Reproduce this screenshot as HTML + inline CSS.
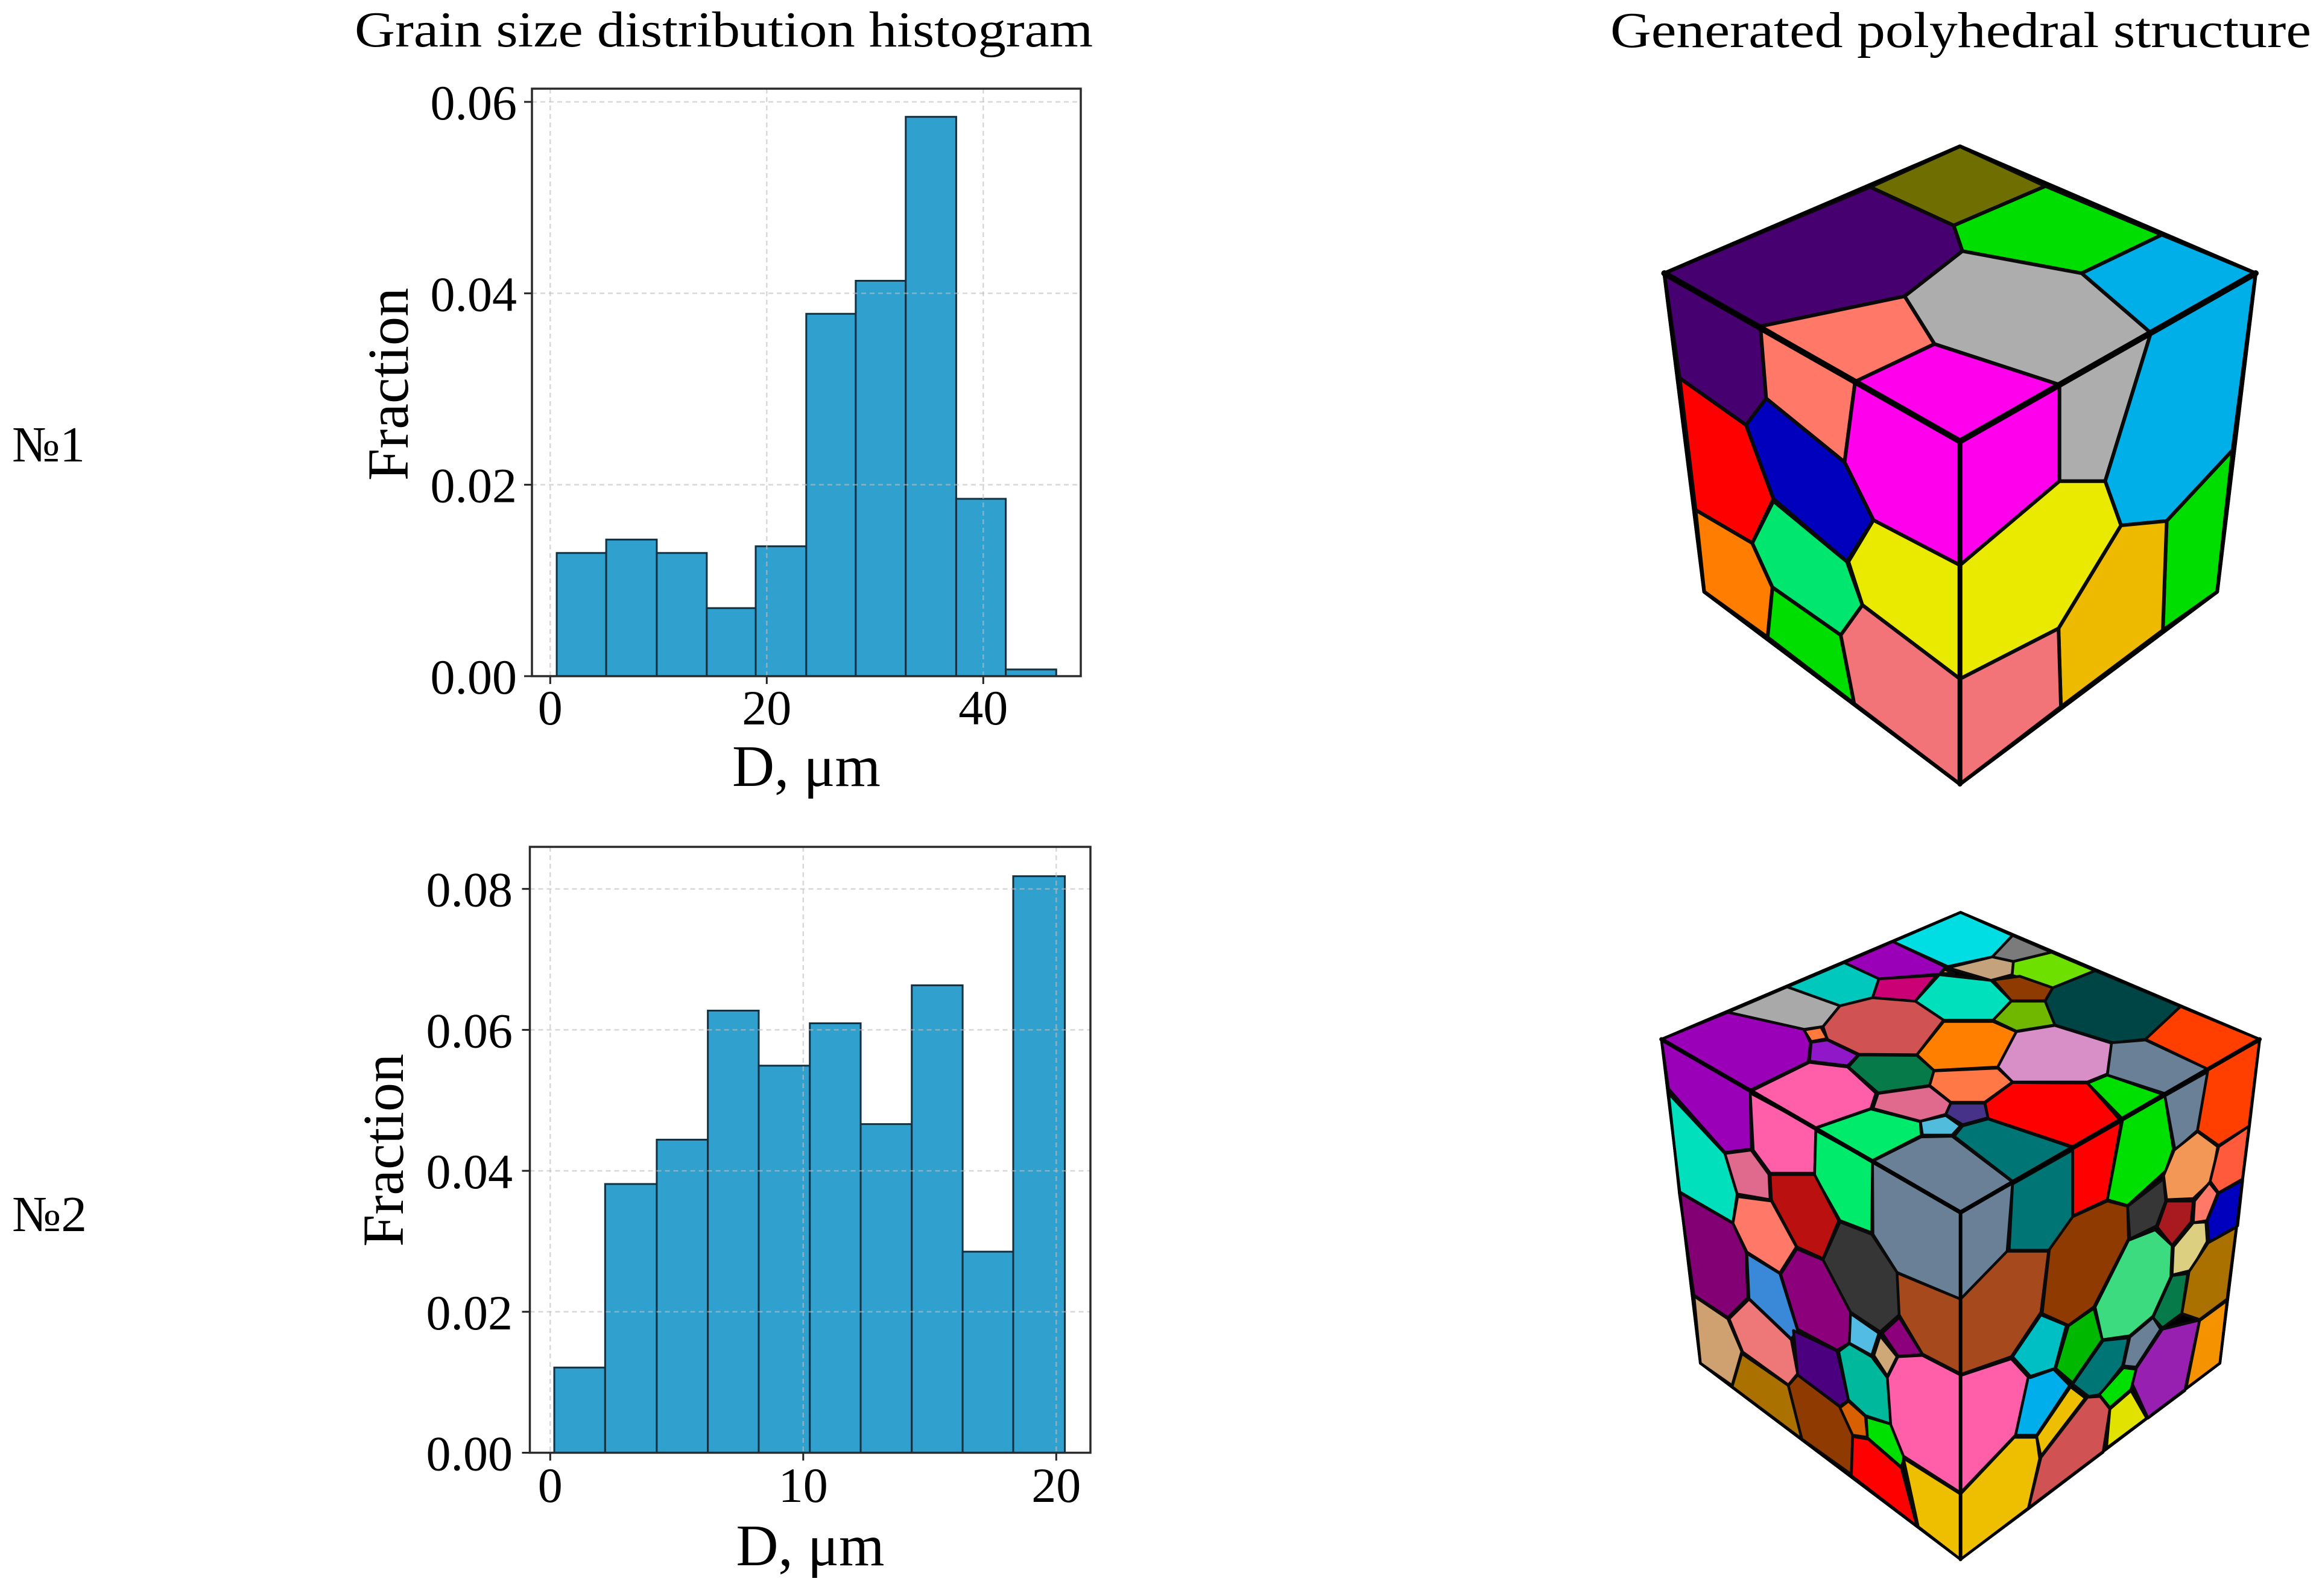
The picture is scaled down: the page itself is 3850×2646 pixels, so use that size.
<!DOCTYPE html>
<html lang="en">
<head>
<meta charset="utf-8">
<title>Grain size distribution and polyhedral structures</title>
<style>
html,body{margin:0;padding:0;background:#fff;}
svg{display:block;}
text{font-family:"Liberation Serif","DejaVu Serif",serif;fill:#000;}
.cube polygon{stroke:#0a0a0a;stroke-width:4.5;stroke-linejoin:round;vector-effect:non-scaling-stroke;}
.cube.cube-one polygon{stroke-width:6;}
.cube polyline{fill:none;stroke:#000;stroke-linejoin:round;stroke-linecap:round;vector-effect:non-scaling-stroke;}
</style>
</head>
<body>
<svg id="figure" xmlns="http://www.w3.org/2000/svg" width="3850" height="2646" viewBox="0 0 3850 2646">
<rect width="3850" height="2646" fill="#ffffff"/>
<text x="588" y="77" font-size="84" textLength="1224" lengthAdjust="spacingAndGlyphs">Grain size distribution histogram</text>
<text x="2670" y="78" font-size="84" textLength="1162" lengthAdjust="spacingAndGlyphs">Generated polyhedral structure</text>
<text x="20" y="765" font-size="84" textLength="121" lengthAdjust="spacingAndGlyphs">№1</text>
<text x="20" y="2041" font-size="84" textLength="124" lengthAdjust="spacingAndGlyphs">№2</text>

<g id="chart-1"></g>
<g id="chart-2"></g>

<g class="cube cube-one" transform="translate(2600 200) scale(0.7972 0.7334)">
<polygon fill="#000" points="815,58 1430,345 1350,1065 815,1500 283,1065 200,345"/>
<polygon fill="#6f6e00" points="815,58 993,148 802,237 628,150"/>
<polygon fill="#00de00" points="993,148 1235,258 1068,345 820,295 802,237"/>
<polygon fill="#00aee8" points="1235,258 1430,345 1212,480 1068,345"/>
<polygon fill="#47006f" points="628,150 802,237 820,295 700,397 400,465 200,345"/>
<polygon fill="#adadad" points="820,295 1068,345 1212,480 1022,597 762,505 700,397"/>
<polygon fill="#ff7868" points="700,397 762,505 597,590 400,465"/>
<polygon fill="#ff00ed" points="762,505 1022,597 815,725 597,590"/>
<polygon fill="#47006f" points="200,345 400,465 412,628 370,688 232,582"/>
<polygon fill="#ff7868" points="400,465 597,590 575,772 412,628"/>
<polygon fill="#ff00ed" points="597,590 815,725 815,1005 635,903 575,772"/>
<polygon fill="#ff0000" points="232,582 370,688 427,855 383,955 265,880"/>
<polygon fill="#0000bd" points="412,628 575,772 635,903 580,997 427,855 370,688"/>
<polygon fill="#ff7d00" points="265,880 383,955 425,1055 415,1168 283,1065"/>
<polygon fill="#00e66e" points="427,860 580,997 612,1095 567,1163 425,1055 383,955"/>
<polygon fill="#eaea00" points="635,903 815,1005 815,1262 612,1095 583,997"/>
<polygon fill="#00de00" points="425,1055 567,1163 595,1318 415,1168"/>
<polygon fill="#f27378" points="612,1095 815,1262 815,1500 595,1318 567,1163"/>
<polygon fill="#ff00ed" points="815,725 1022,597 1022,815 815,1005"/>
<polygon fill="#adadad" points="1022,597 1212,480 1117,815 1022,815"/>
<polygon fill="#00aee8" points="1212,480 1430,345 1382,745 1245,905 1150,915 1117,815"/>
<polygon fill="#eaea00" points="815,1005 1022,815 1117,815 1150,915 1020,1148 815,1262"/>
<polygon fill="#00de00" points="1382,745 1350,1065 1237,1152 1245,905"/>
<polygon fill="#eeba00" points="1150,915 1245,905 1237,1152 1025,1325 1020,1148"/>
<polygon fill="#f27378" points="815,1262 1020,1148 1025,1325 815,1500"/>
<polyline stroke-width="10" points="200,345 815,725 1430,345"/>
<polyline stroke-width="8" points="815,725 815,1500"/>
<polyline stroke-width="6" points="200,345 815,58 1430,345 1350,1065 815,1500 283,1065 200,345"/>
</g>

<g class="cube">
<g transform="translate(2700 1480) scale(0.7015 0.3827)">
<polygon fill="#000" points="785,85 1492,635 1398,2038 785,2888 170,2038 78,635"/>
<polygon fill="#00dde3" points="785,85 908,185 860,278 755,320 625,212"/>
<polygon fill="#7b7b7b" points="908,185 1000,258 910,298 860,278"/>
<polygon fill="#c4a27c" points="860,278 910,298 907,355 857,380 755,325"/>
<polygon fill="#ff9a00" points="748,332 770,350 738,350"/>
<polygon fill="#6ee000" points="1000,258 1103,338 1003,412 907,358 910,298"/>
<polygon fill="#9a00b8" points="625,212 750,322 735,353 592,373 510,303"/>
<polygon fill="#00c8bd" points="510,303 592,373 577,455 500,490 375,408"/>
<polygon fill="#cc0075" points="592,373 728,358 678,470 577,455"/>
<polygon fill="#00e0bd" points="735,355 857,380 905,468 862,552 745,552 678,470"/>
<polygon fill="#8f3a00" points="862,378 925,362 1003,412 985,468 905,468"/>
<polygon fill="#70b800" points="905,470 985,470 1008,573 917,600 862,552"/>
<polygon fill="#004545" points="1103,338 1305,493 1222,635 1145,650 1008,573 985,470 1003,412"/>
<polygon fill="#ff3f00" points="1305,493 1492,635 1370,765 1222,635"/>
<polygon fill="#a9a9a9" points="375,408 500,490 460,580 415,592 235,518"/>
<polygon fill="#d05252" points="577,455 678,470 745,552 682,702 545,700 470,635 460,580 500,490"/>
<polygon fill="#ff7f00" points="745,558 862,558 917,602 873,755 722,770 682,702"/>
<polygon fill="#d88fc8" points="917,602 1008,575 1142,652 1132,785 1085,820 908,820 873,755"/>
<polygon fill="#6a8096" points="1142,650 1222,638 1370,765 1268,870 1132,790"/>
<polygon fill="#9a00b8" points="235,518 415,592 430,650 425,733 288,855 78,635"/>
<polygon fill="#ff7a3c" points="415,595 455,582 470,632 432,645"/>
<polygon fill="#9018c8" points="432,648 470,638 543,703 518,750 428,730"/>
<polygon fill="#077a4a" points="545,703 682,705 722,770 712,835 590,867 520,755"/>
<polygon fill="#ff7845" points="722,772 873,760 908,820 842,908 762,908 712,835"/>
<polygon fill="#ff5fa8" points="428,735 518,755 585,868 573,935 443,1018 292,858"/>
<polygon fill="#e06a8e" points="590,870 712,838 762,910 750,960 690,990 578,935"/>
<polygon fill="#ff0000" points="908,822 1085,825 1162,985 1050,1100 850,978 843,910"/>
<polygon fill="#00e000" points="1085,825 1132,790 1265,875 1168,980"/>
<polygon fill="#463288" points="762,912 842,912 850,975 790,1005 750,960"/>
<polygon fill="#52bcdc" points="750,965 785,1010 765,1050 695,1050 690,990"/>
<polygon fill="#007575" points="790,1010 850,980 1048,1103 908,1250 770,1055"/>
<polygon fill="#00eb6c" points="573,937 690,992 692,1052 577,1160 443,1020"/>
<polygon fill="#6a8096" points="692,1058 765,1055 908,1253 785,1385 577,1163"/>
<polygon fill="#9a00b8" points="78,635 288,855 290,1110 228,1125 95,850"/>
<polygon fill="#ff5fa8" points="288,868 443,1020 440,1215 335,1215 295,1115"/>
<polygon fill="#00eb6c" points="443,1030 577,1165 575,1473 500,1420 440,1225"/>
<polygon fill="#00e0bd" points="95,870 228,1130 257,1305 247,1430 120,1295"/>
<polygon fill="#e06a8e" points="228,1130 290,1115 332,1220 335,1330 257,1305"/>
<polygon fill="#ff0000" points="1050,1110 1165,990 1132,1330 1050,1400"/>
<polygon fill="#00e000" points="1168,985 1268,880 1288,1110 1270,1205 1180,1355 1132,1330"/>
<polygon fill="#6a8096" points="1268,880 1370,775 1345,1030 1292,1115"/>
<polygon fill="#ff3f00" points="1370,765 1492,640 1468,1010 1395,1095 1345,1030"/>
<polygon fill="#f29755" points="1345,1035 1393,1100 1378,1250 1335,1325 1272,1330 1265,1225 1290,1115"/>
<polygon fill="#ff5a3c" points="1468,1010 1452,1240 1395,1300 1375,1250 1395,1100"/>
</g>
<g transform="translate(2700 1950) scale(0.7015 0.4337)">
<polygon fill="#ff7868" points="258,78 338,95 397,270 358,370 280,290 247,180"/>
<polygon fill="#bb1010" points="335,-6 440,-6 497,170 460,315 398,270 338,90"/>
<polygon fill="#6a8096" points="577,-57 785,140 785,470 635,368 578,222"/>
<polygon fill="#6a8096" points="785,140 908,25 895,290 785,470"/>
<polygon fill="#007575" points="908,30 1050,-100 1050,155 995,283 900,283"/>
<polygon fill="#0000bd" points="1395,65 1452,15 1440,190 1372,252 1368,170"/>
<polygon fill="#363636" points="500,175 575,222 635,368 640,530 595,595 525,520 460,320"/>
<polygon fill="#820074" points="120,62 247,180 278,290 282,465 235,540 155,455"/>
<polygon fill="#3a88d8" points="280,295 358,372 400,590 385,622 285,468"/>
<polygon fill="#8c007c" points="360,375 398,278 460,320 525,520 525,635 493,665 400,585"/>
<polygon fill="#cfa070" points="155,458 235,545 268,670 245,800 170,715"/>
<polygon fill="#ee7878" points="285,470 385,625 400,755 378,798 270,672 238,545"/>
<polygon fill="#aa7000" points="268,678 378,800 410,1005 245,805"/>
<polygon fill="#4b007f" points="390,590 493,668 520,855 500,880 400,760"/>
<polygon fill="#8e3a00" points="400,760 500,882 530,985 527,1140 410,1005 378,800"/>
<polygon fill="#52bce4" points="525,525 592,600 575,685 522,638"/>
<polygon fill="#cfa878" points="595,610 635,690 612,765 580,685"/>
<polygon fill="#8c007c" points="640,540 695,682 637,688 600,600"/>
<polygon fill="#00b89c" points="497,670 522,640 575,690 612,770 622,948 560,915 520,855"/>
<polygon fill="#d86000" points="520,860 560,918 565,998 530,990 500,885"/>
<polygon fill="#00e000" points="562,920 625,950 652,1075 645,1112 565,1000"/>
<polygon fill="#ff0000" points="530,995 567,1005 645,1115 682,1338 527,1145"/>
<polygon fill="#ff5fa8" points="637,690 695,685 785,760 785,1210 650,1070 620,950 612,770"/>
<polygon fill="#a64a1e" points="635,370 785,470 785,755 695,680 640,530"/>
<polygon fill="#eebf00" points="650,1078 785,1215 785,1465 685,1340"/>
<polygon fill="#a64a1e" points="785,470 895,287 993,287 975,520 905,690 785,758"/>
<polygon fill="#8e3a00" points="1050,155 1132,95 1180,115 1182,240 1100,500 1040,570 978,525 995,280"/>
<polygon fill="#363636" points="1180,115 1265,10 1270,95 1248,190 1185,240"/>
<polygon fill="#a81a20" points="1250,195 1272,95 1335,95 1330,175 1285,265"/>
<polygon fill="#ff7868" points="1373,25 1393,65 1367,170 1335,178 1338,95"/>
<polygon fill="#dccf80" points="1335,178 1365,175 1368,250 1330,360 1285,378 1288,270"/>
<polygon fill="#3ddb80" points="1245,205 1285,265 1282,385 1240,535 1185,610 1120,625 1103,500 1182,245"/>
<polygon fill="#aa7000" points="1437,195 1415,470 1350,548 1308,525 1325,365 1370,255"/>
<polygon fill="#077a4a" points="1285,380 1322,372 1308,525 1262,580 1240,540"/>
<polygon fill="#00bfc4" points="975,530 1035,570 1008,735 950,765 908,690"/>
<polygon fill="#00b800" points="1040,572 1100,505 1120,625 1050,790 1010,735"/>
<polygon fill="#007575" points="1122,628 1182,618 1168,725 1115,835 1088,842 1050,795"/>
<polygon fill="#6a8096" points="1185,615 1240,540 1258,585 1200,730 1170,725"/>
<polygon fill="#9720b0" points="1262,585 1350,550 1315,820 1228,925 1190,790 1200,735"/>
<polygon fill="#f59200" points="1350,552 1415,475 1398,715 1318,812"/>
<polygon fill="#00e000" points="1170,732 1200,738 1188,815 1138,885 1113,835"/>
<polygon fill="#e2e200" points="1188,820 1225,925 1130,1040 1138,890"/>
<polygon fill="#d05252" points="1085,845 1115,842 1138,890 1122,1055 945,1272 975,1075"/>
<polygon fill="#eebf00" points="1045,805 1080,848 975,1070 965,995"/>
<polygon fill="#00aeec" points="950,770 1005,738 1043,800 965,990 915,990 945,765"/>
<polygon fill="#ff5fa8" points="785,762 905,698 945,768 915,990 785,1210"/>
<polygon fill="#eebf00" points="785,1215 912,998 965,998 972,1080 945,1272 785,1465"/>
<polyline stroke-width="6" points="785,140 785,1465"/>
<polyline stroke-width="4.5" points="170,715 785,1465 1398,715"/>
</g>
<g transform="translate(2700 1480) scale(0.7015 0.3827)">
<polyline stroke-width="7" points="78,635 785,1385 1492,635"/>
<polyline stroke-width="4.5" points="170,2038 78,635 785,85 1492,635 1398,2038"/>
</g>
</g>
</svg>
<script>
var chart1Edges = [0.6, 5.17, 9.84, 14.46, 18.98, 23.65, 28.22, 32.84, 37.5, 42.08, 46.74];
var chart1Fractions = [0.01287, 0.01427, 0.01287, 0.00711, 0.01357, 0.03786, 0.04131, 0.05844, 0.01853, 0.0007];
var chart1XTicks = [0, 20, 40];
var chart1YTicks = [0, 0.02, 0.04, 0.06];
var chart1YTickLabels = ["0.00", "0.02", "0.04", "0.06"];

var chart2Edges = [0.16, 2.17, 4.21, 6.23, 8.24, 10.26, 12.27, 14.29, 16.3, 18.3, 20.34];
var chart2Fractions = [0.01209, 0.03813, 0.04442, 0.06273, 0.05492, 0.06093, 0.04663, 0.06632, 0.02853, 0.0818];
var chart2XTicks = [0, 10, 20];
var chart2YTicks = [0, 0.02, 0.04, 0.06, 0.08];
var chart2YTickLabels = ["0.00", "0.02", "0.04", "0.06", "0.08"];

var SVGNS = "http://www.w3.org/2000/svg";

function shape(parent, tag, attrs) {
  var el = document.createElementNS(SVGNS, tag);
  for (var k in attrs) { el.setAttribute(k, attrs[k]); }
  parent.appendChild(el);
  return el;
}

function drawHistogram(cfg) {
  var g = document.getElementById(cfg.id);
  function xAxis(v) { return cfg.xZero + v * cfg.xPerUnit; }
  function yAxis(v) { return cfg.bottom - v * cfg.yPerUnit; }

  for (var i = 0; i < cfg.fractions.length; i++) {
    var top = yAxis(cfg.fractions[i]);
    var left = xAxis(cfg.edges[i]);
    var bar = shape(g, "rect", {
      x: left, y: top,
      width: xAxis(cfg.edges[i + 1]) - left,
      height: cfg.bottom - top,
      fill: "#30a0ce", stroke: "#12303f", "stroke-width": 3
    });
    
    
  }

  cfg.xTicks.forEach(function (t) {
    var x = xAxis(t);
    var grid = shape(g, "line", {
      x1: x, x2: x, y1: cfg.top, y2: cfg.bottom,
      stroke: "rgba(190,190,190,0.6)", "stroke-width": 2.5, "stroke-dasharray": "8 6"
    });
    
    
    var tick = shape(g, "line", {
      x1: x, x2: x, y1: cfg.bottom, y2: cfg.bottom + 13,
      stroke: "#222", "stroke-width": 3
    });
    
    
    var label = shape(g, "text", {
      x: x, y: cfg.xTickBaseline, "font-size": 82, "text-anchor": "middle"
    });
    label.textContent = String(t);
    
    
  });

  cfg.yTicks.forEach(function (t, idx) {
    var y = yAxis(t);
    var grid = shape(g, "line", {
      x1: cfg.left, x2: cfg.right, y1: y, y2: y,
      stroke: "rgba(190,190,190,0.6)", "stroke-width": 2.5, "stroke-dasharray": "8 6"
    });
    
    
    var tick = shape(g, "line", {
      x1: cfg.left - 13, x2: cfg.left, y1: y, y2: y,
      stroke: "#222", "stroke-width": 3
    });
    
    
    var label = shape(g, "text", {
      x: cfg.yTickRight, y: y + 29, "font-size": 82, "text-anchor": "end"
    });
    label.textContent = cfg.yTickLabels[idx];
    
    
  });

  var frame = shape(g, "rect", {
    x: cfg.left, y: cfg.top,
    width: cfg.right - cfg.left, height: cfg.bottom - cfg.top,
    fill: "none", stroke: "#2a2a2a", "stroke-width": 3.5
  });
  
  

  var xTitle = shape(g, "text", {
    x: cfg.xTitleX, y: cfg.xTitleY, "font-size": 97, "text-anchor": "middle"
  });
  xTitle.textContent = "D, μm";
  
  

  var yTitle = shape(g, "text", {
    "font-size": 96, "text-anchor": "middle",
    transform: "translate(" + cfg.yTitleX + " " + cfg.yTitleY + ") rotate(-90)"
  });
  yTitle.textContent = "Fraction";
  
  
}

drawHistogram({
  id: "chart-1", edges: chart1Edges, fractions: chart1Fractions,
  xTicks: chart1XTicks, yTicks: chart1YTicks, yTickLabels: chart1YTickLabels,
  left: 882, right: 1792, top: 147, bottom: 1121,
  xZero: 912.3, xPerUnit: 17.95, yPerUnit: 15868,
  xTickBaseline: 1201, yTickRight: 857,
  xTitleX: 1337, xTitleY: 1303, yTitleX: 676, yTitleY: 637
});

drawHistogram({
  id: "chart-2", edges: chart2Edges, fractions: chart2Fractions,
  xTicks: chart2XTicks, yTicks: chart2YTicks, yTickLabels: chart2YTickLabels,
  left: 878.5, right: 1808, top: 1404, bottom: 2408.5,
  xZero: 912.3, xPerUnit: 41.95, yPerUnit: 11685,
  xTickBaseline: 2490, yTickRight: 850,
  xTitleX: 1343.5, xTitleY: 2595, yTitleX: 668, yTitleY: 1907
});
</script>
</body>
</html>
